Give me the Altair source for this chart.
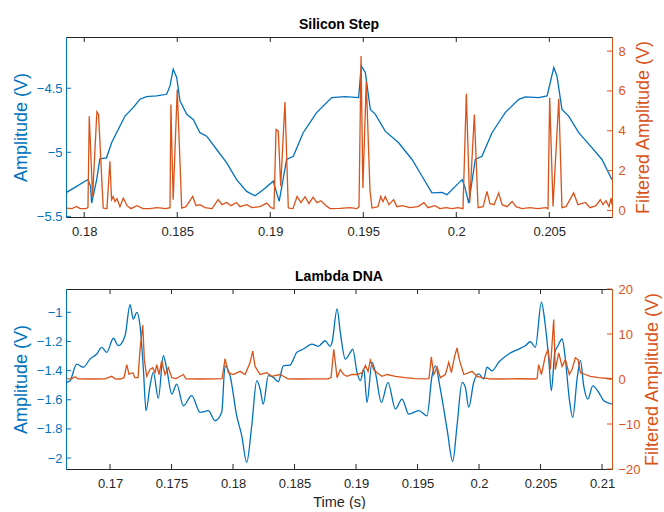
import altair as alt
import pandas as pd

BLUE = "#0072BD"
ORANGE = "#D95319"
DARK = "#262626"
FONT = "Liberation Sans"

# ---------------- Silicon Step ----------------
si_t = [0.17905, 0.17959, 0.18004, 0.18020, 0.18034, 0.18040, 0.18067, 0.18084, 0.18120, 0.18147,
        0.18174, 0.18219, 0.18263, 0.18299, 0.18335, 0.18389, 0.18443, 0.18461, 0.18478, 0.18497,
        0.18515, 0.18551, 0.18586, 0.18622, 0.18658, 0.18712, 0.18766, 0.18819, 0.18873, 0.18918,
        0.18962, 0.19016, 0.19048, 0.19088, 0.19124, 0.19177, 0.19249, 0.19330, 0.19403, 0.19475,
        0.19489, 0.19511, 0.19538, 0.19565, 0.19618, 0.19690, 0.19762, 0.19816, 0.19869, 0.19923,
        0.19950, 0.19995, 0.20031, 0.20045, 0.20067, 0.20102, 0.20138, 0.20192, 0.20263, 0.20336,
        0.20371, 0.20443, 0.20488, 0.20524, 0.20541, 0.20568, 0.20604, 0.20658, 0.20730, 0.20783,
        0.20837]
si_amp = [-5.313, -5.266, -5.226, -5.213, -5.266, -5.396, -5.213, -5.051, -5.043, -4.926,
          -4.847, -4.717, -4.651, -4.586, -4.565, -4.560, -4.547, -4.482, -4.351, -4.416,
          -4.600, -4.704, -4.743, -4.847, -4.874, -4.978, -5.082, -5.213, -5.305, -5.339,
          -5.292, -5.226, -5.383, -5.056, -5.031, -4.847, -4.690, -4.573, -4.565, -4.573,
          -4.325, -4.377, -4.665, -4.704, -4.835, -4.926, -5.056, -5.187, -5.317, -5.313,
          -5.331, -5.266, -5.213, -5.266, -5.396, -5.056, -5.031, -4.847, -4.690, -4.586,
          -4.568, -4.573, -4.560, -4.338, -4.404, -4.665, -4.717, -4.847, -4.965, -5.056,
          -5.213]

si_ft = [0.17905, 0.17934, 0.17959, 0.17977, 0.18009, 0.18020, 0.18027, 0.18045, 0.18068, 0.18077,
         0.18102, 0.18122, 0.18138, 0.18147, 0.18156, 0.18165, 0.18176, 0.18192, 0.18210, 0.18230,
         0.18251, 0.18283, 0.18316, 0.18353, 0.18391, 0.18439, 0.18461, 0.18466, 0.18478, 0.18500,
         0.18524, 0.18547, 0.18583, 0.18601, 0.18622, 0.18649, 0.18687, 0.18720, 0.18740, 0.18766,
         0.18789, 0.18819, 0.18837, 0.18873, 0.18902, 0.18945, 0.18981, 0.19004, 0.19020, 0.19031,
         0.19043, 0.19056, 0.19079, 0.19097, 0.19122, 0.19144, 0.19165, 0.19187, 0.19208, 0.19230,
         0.19251, 0.19273, 0.19300, 0.19321, 0.19375, 0.19429, 0.19466, 0.19477, 0.19488, 0.19498,
         0.19516, 0.19536, 0.19547, 0.19579, 0.19594, 0.19606, 0.19618, 0.19638, 0.19663, 0.19681,
         0.19708, 0.19751, 0.19794, 0.19826, 0.19848, 0.19886, 0.19912, 0.19945, 0.19977, 0.20009,
         0.20036, 0.20054, 0.20072, 0.20097, 0.20117, 0.20144, 0.20165, 0.20181, 0.20203, 0.20228,
         0.20246, 0.20273, 0.20300, 0.20321, 0.20353, 0.20396, 0.20439, 0.20482, 0.20493, 0.20502,
         0.20520, 0.20551, 0.20568, 0.20590, 0.20631, 0.20654, 0.20694, 0.20719, 0.20751, 0.20774,
         0.20789, 0.20805, 0.20821, 0.20832, 0.20837]
si_filt = [0.12, 0.09, 0.20, 0.09, 0.09, 0.14, 4.73, 0.70, 4.95, 4.82,
           0.12, 0.09, 2.47, 0.54, 0.69, 0.44, 0.59, 0.19, 0.62, 0.24,
           0.09, 0.24, 0.09, 0.09, 0.14, 0.09, 0.14, 5.32, 0.54, 6.07,
           0.12, 0.19, 0.70, 0.24, 0.29, 0.14, 0.09, 0.54, 0.29, 0.40,
           0.24, 0.40, 0.19, 0.29, 0.14, 0.19, 0.37, 0.14, 0.09, 4.06,
           3.98, 1.21, 5.44, 0.12, 0.09, 0.70, 0.39, 0.69, 0.34, 0.67,
           0.39, 0.49, 0.24, 0.09, 0.10, 0.14, 0.09, 0.19, 7.75, 1.13,
           6.49, 1.00, 0.12, 0.19, 0.70, 0.44, 0.70, 0.29, 0.54, 0.19,
           0.24, 0.14, 0.19, 0.39, 0.14, 0.24, 0.09, 0.14, 0.09, 0.14,
           0.09, 5.86, 0.37, 4.82, 0.14, 0.19, 0.96, 0.34, 0.29, 0.88,
           0.29, 0.19, 0.45, 0.19, 0.09, 0.14, 0.09, 0.14, 0.09, 5.66,
           0.20, 5.61, 0.14, 0.19, 0.88, 0.29, 0.40, 0.14, 0.24, 0.54,
           0.29, 0.49, 0.19, 0.62, 0.29]

# ---------------- Lambda DNA ----------------
la_t = [0.16648, 0.16675, 0.16729, 0.16783, 0.16837, 0.16892, 0.16933, 0.16973, 0.17027, 0.17067,
        0.17122, 0.17163, 0.17189, 0.17217, 0.17244, 0.17271, 0.17293, 0.17325, 0.17352, 0.17393,
        0.17433, 0.17461, 0.17502, 0.17542, 0.17596, 0.17664, 0.17732, 0.17799, 0.17854, 0.17908,
        0.17935, 0.17976, 0.18030, 0.18071, 0.18111, 0.18152, 0.18193, 0.18220, 0.18246, 0.18287,
        0.18328, 0.18368, 0.18409, 0.18463, 0.18518, 0.18572, 0.18640, 0.18693, 0.18748, 0.18789,
        0.18805, 0.18846, 0.18872, 0.18913, 0.18954, 0.18973, 0.19008, 0.19035, 0.19063, 0.19089,
        0.19130, 0.19157, 0.19206, 0.19260, 0.19320, 0.19374, 0.19428, 0.19510, 0.19577, 0.19618,
        0.19645, 0.19685, 0.19740, 0.19786, 0.19821, 0.19862, 0.19889, 0.19916, 0.19957, 0.19998,
        0.20038, 0.20065, 0.20106, 0.20160, 0.20241, 0.20323, 0.20376, 0.20417, 0.20458, 0.20507,
        0.20539, 0.20567, 0.20588, 0.20616, 0.20642, 0.20675, 0.20702, 0.20734, 0.20762, 0.20797,
        0.20824, 0.20851, 0.20886, 0.20924, 0.20973, 0.21014, 0.21081]
la_amp = [-1.480, -1.469, -1.355, -1.377, -1.321, -1.286, -1.240, -1.275, -1.178, -1.229,
          -1.161, -0.948, -1.046, -1.000, -1.092, -1.389, -1.675, -1.504, -1.412, -1.590,
          -1.298, -1.389, -1.561, -1.492, -1.641, -1.572, -1.686, -1.675, -1.744, -1.686,
          -1.367, -1.435, -1.710, -1.847, -2.030, -1.778, -1.469, -1.526, -1.629, -1.435,
          -1.446, -1.476, -1.367, -1.362, -1.275, -1.252, -1.218, -1.233, -1.195, -1.233,
          -1.206, -0.977, -1.137, -1.321, -1.275, -1.252, -1.412, -1.469, -1.389, -1.618,
          -1.343, -1.412, -1.618, -1.480, -1.664, -1.595, -1.698, -1.675, -1.710, -1.435,
          -1.367, -1.526, -1.801, -2.023, -1.778, -1.480, -1.515, -1.652, -1.480, -1.423,
          -1.458, -1.377, -1.401, -1.343, -1.286, -1.252, -1.229, -1.202, -1.240, -0.931,
          -1.092, -1.321, -1.538, -1.275, -1.229, -1.183, -1.321, -1.595, -1.721, -1.458,
          -1.330, -1.504, -1.595, -1.504, -1.549, -1.607, -1.630]

la_ft = [0.16648, 0.16691, 0.16715, 0.16740, 0.16837, 0.16959, 0.17014, 0.17041, 0.17081, 0.17114,
         0.17136, 0.17154, 0.17185, 0.17203, 0.17228, 0.17244, 0.17266, 0.17279, 0.17298, 0.17325,
         0.17347, 0.17366, 0.17380, 0.17398, 0.17420, 0.17447, 0.17474, 0.17502, 0.17537, 0.17596,
         0.17618, 0.17732, 0.17854, 0.17911, 0.17935, 0.17962, 0.18002, 0.18057, 0.18098, 0.18138,
         0.18160, 0.18179, 0.18220, 0.18274, 0.18315, 0.18382, 0.18409, 0.18447, 0.18545, 0.18667,
         0.18772, 0.18797, 0.18819, 0.18846, 0.18872, 0.18900, 0.18927, 0.18967, 0.19008, 0.19049,
         0.19076, 0.19098, 0.19116, 0.19144, 0.19171, 0.19211, 0.19252, 0.19320, 0.19398, 0.19480,
         0.19561, 0.19593, 0.19612, 0.19632, 0.19659, 0.19685, 0.19726, 0.19754, 0.19775, 0.19802,
         0.19821, 0.19840, 0.19876, 0.19916, 0.19943, 0.19984, 0.20024, 0.20089, 0.20171, 0.20333,
         0.20455, 0.20472, 0.20485, 0.20507, 0.20539, 0.20561, 0.20580, 0.20607, 0.20620, 0.20648,
         0.20675, 0.20702, 0.20734, 0.20756, 0.20783, 0.20805, 0.20824, 0.20864, 0.20905, 0.20973,
         0.21081]
la_filt = [0.04, 0.10, 0.50, 0.05, 0.00, 0.05, 0.60, 0.05, 0.00, 0.30,
           3.20, 1.10, 1.40, 0.30, 0.30, 6.60, 12.0, 4.30, 0.60, 2.10,
           2.50, 1.40, 3.20, 1.00, 4.00, 1.00, 2.50, 0.30, 0.10, 1.00,
           0.05, 0.00, 0.05, 0.10, 4.50, 1.40, 1.00, 1.70, 1.00, 3.60,
           6.20, 2.80, 1.00, 1.40, 0.60, 1.00, 0.60, 0.05, 0.00, 0.05,
           0.05, 0.30, 6.60, 0.30, 2.10, 1.00, 0.60, 1.00, 1.00, 1.40,
           3.00, 1.70, 4.20, 2.10, 1.40, 0.60, 1.00, 0.60, 0.30, 0.10,
           0.05, 0.10, 4.90, 1.00, 2.70, 0.30, 1.00, 3.70, 1.40, 5.10,
           6.90, 4.30, 1.00, 1.40, 1.70, 0.60, 0.30, 0.05, 0.00, 0.05,
           0.00, 0.10, 3.20, 1.00, 5.10, 6.60, 2.10, 13.2, 2.10, 5.80,
           2.80, 4.30, 1.00, 2.10, 4.70, 4.30, 1.40, 1.00, 0.60, 0.30,
           0.05]

# ---------------- axes ----------------
si_xticks = [0.18, 0.185, 0.19, 0.195, 0.2, 0.205]
si_lticks = [-5.5, -5, -4.5]
si_rticks = [0, 2, 4, 6, 8]
la_xticks = [0.17, 0.175, 0.18, 0.185, 0.19, 0.195, 0.2, 0.205, 0.21]
la_lticks = [-2, -1.8, -1.6, -1.4, -1.2, -1]
la_rticks = [-20, -10, 0, 10, 20]

si_xdom = [0.17902, 0.20837]
si_ldom = [-5.505, -4.1]
si_rdom = [-0.33, 8.71]
la_xdom = [0.16642, 0.21081]
la_ldom = [-2.075, -0.84]
la_rdom = [-20, 20]

W, H = 546, 180
TK = 5
LW = 1.3


def panel(title, t, amp, ft, filt, xdom, ldom, rdom, xticks, lticks, rticks, xtitle,
          r_title_pad, blue_interp, title_offset):
    xs = alt.Scale(domain=xdom, nice=False, zero=False)
    ls = alt.Scale(domain=ldom, nice=False, zero=False)
    rs = alt.Scale(domain=rdom, nice=False, zero=False)
    xkw = dict(values=xticks, format="~r", ticks=False, grid=False, domain=False,
               labelColor=DARK, labelFontSize=13, labelPadding=8, labelFlush=False,
               labelBound=False, labelOverlap=False)
    if xtitle:
        xaxis = alt.Axis(title=xtitle, titleColor=DARK, titleFontSize=14.5,
                         titleFontWeight="normal", titlePadding=5, **xkw)
    else:
        xaxis = alt.Axis(title=None, **xkw)
    laxis = alt.Axis(orient="left", values=lticks, format="~r", ticks=False, grid=False,
                     domainColor=BLUE, labelColor=BLUE, labelFontSize=13, labelPadding=4,
                     labelFlush=False, labelOverlap=False,
                     title="Amplitude (V)", titleColor=BLUE, titleFontSize=18,
                     titleFontWeight="normal", titlePadding=6)
    raxis = alt.Axis(orient="right", values=rticks, format="~r", ticks=False, grid=False,
                     domainColor=ORANGE, labelColor=ORANGE, labelFontSize=13, labelPadding=6,
                     labelFlush=False, labelOverlap=False,
                     title="Filtered Amplitude (V)", titleColor=ORANGE, titleFontSize=18,
                     titleFontWeight="normal", titlePadding=r_title_pad, titleAngle=270,
                     titleBaseline="top")

    df_a = pd.DataFrame({"t": t, "v": amp})
    df_f = pd.DataFrame({"t": ft, "r": filt})
    df_xt = pd.DataFrame({"t": xticks})
    df_lt = pd.DataFrame({"v": lticks})
    df_rt = pd.DataFrame({"r": rticks})

    blue = alt.Chart(df_a).mark_line(color=BLUE, strokeWidth=LW, clip=True,
                                     interpolate=blue_interp).encode(
        x=alt.X("t:Q", scale=xs, axis=xaxis),
        y=alt.Y("v:Q", scale=ls, axis=laxis))
    lt = alt.Chart(df_lt).mark_rule(color=BLUE, strokeWidth=1).encode(
        y=alt.Y("v:Q", scale=ls, axis=laxis), x=alt.value(0), x2=alt.value(TK))
    orange = alt.Chart(df_f).mark_line(color=ORANGE, strokeWidth=LW, clip=True).encode(
        x=alt.X("t:Q", scale=xs, axis=xaxis),
        y=alt.Y("r:Q", scale=rs, axis=raxis))
    rt = alt.Chart(df_rt).mark_rule(color=ORANGE, strokeWidth=1).encode(
        y=alt.Y("r:Q", scale=rs, axis=raxis), x=alt.value(W - TK), x2=alt.value(W))
    xt_top = alt.Chart(df_xt).mark_rule(color=DARK, strokeWidth=1).encode(
        x=alt.X("t:Q", scale=xs, axis=xaxis), y=alt.value(0), y2=alt.value(TK))
    xt_bot = alt.Chart(df_xt).mark_rule(color=DARK, strokeWidth=1).encode(
        x=alt.X("t:Q", scale=xs, axis=xaxis), y=alt.value(H - TK), y2=alt.value(H))

    return alt.layer(
        alt.layer(blue, lt),
        alt.layer(orange, rt),
        xt_top, xt_bot,
    ).resolve_scale(y="independent").properties(
        width=W, height=H,
        title=alt.TitleParams(title, fontSize=14, fontWeight="bold", color="#000000",
                              font=FONT, anchor="middle", offset=title_offset,
                              frame="group"),
    )


top = panel("Silicon Step", si_t, si_amp, si_ft, si_filt, si_xdom, si_ldom, si_rdom,
            si_xticks, si_lticks, si_rticks, None, 9, "linear", 5)
bot = panel("Lambda DNA", la_t, la_amp, la_ft, la_filt, la_xdom, la_ldom, la_rdom,
            la_xticks, la_lticks, la_rticks, "Time (s)", 3, "monotone", -1)

chart = alt.vconcat(top, bot, spacing=30).properties(
    padding={"left": 11, "top": 17, "right": 0, "bottom": 0},
    background="white",
).configure(font=FONT).configure_view(stroke=DARK, strokeWidth=1).configure_axis(
    labelFont=FONT, titleFont=FONT)

chart.save("out.html", embed_options={"renderer": "svg", "actions": False})
